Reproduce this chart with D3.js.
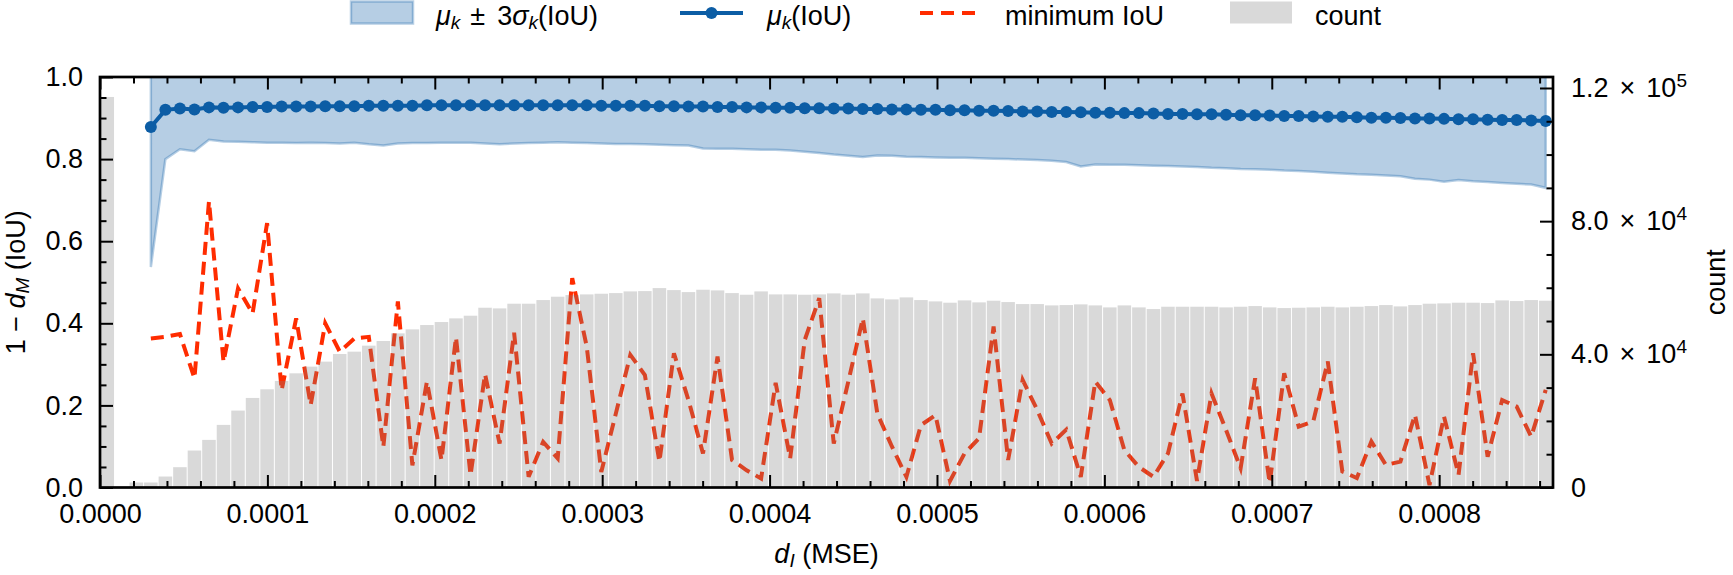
<!DOCTYPE html>
<html>
<head>
<meta charset="utf-8">
<script src="https://cdn.jsdelivr.net/npm/d3@7"></script>
<style>
  body { margin: 0; background: #fff; }
  svg text { font-family: "Liberation Sans", Arial, Helvetica, sans-serif; font-size: 27px; fill: #000; }
</style>
</head>
<body>
<div id="chart"></div>
<script>
var svgWidth = 1733;
var svgHeight = 575;

var margin = {
  top: 77,
  right: 180,
  bottom: 87.5,
  left: 100
};

var width = svgWidth - margin.left - margin.right;
var height = svgHeight - margin.top - margin.bottom;

// histogram of d_I (MSE): 100 bins of equal width starting at 0
var binWidth = 0.00000868;
var counts = [
  117300, 0, 1500, 1500, 3300, 6100, 11100, 14300, 18800, 23100,
  26900, 29500, 32000, 34300, 36300, 37800, 40100, 40800, 42600, 44000,
  46300, 47500, 48800, 49700, 50800, 51600, 54000, 53800, 55200, 55200,
  56300, 57300, 57800, 58000, 58200, 58400, 58900, 59000, 59900, 59300,
  58700, 59400, 59200, 58400, 57900, 58900, 58000, 58000, 57900, 58000,
  58300, 57900, 58300, 56800, 56500, 57100, 56300, 55900, 55500, 56200,
  55600, 56100, 55700, 55100, 55100, 54700, 54800, 55000, 54700, 54100,
  54700, 54100, 53600, 54300, 54300, 54300, 54300, 54100, 54300, 54500,
  54100, 53900, 54000, 54100, 54300, 54100, 54300, 54500, 54800, 54400,
  54800, 55200, 55300, 55500, 55500, 55400, 56200, 56000, 56300, 56100
];

// per-bin IoU statistics, first one is bin 3
var firstBin = 3;
var muIoU = [
  0.878, 0.920, 0.923, 0.921, 0.926, 0.925, 0.926,
  0.927, 0.927, 0.928, 0.928, 0.928, 0.929, 0.929, 0.929, 0.930, 0.930,
  0.930, 0.930, 0.931, 0.931, 0.931, 0.931, 0.931, 0.931, 0.931, 0.931,
  0.931, 0.931, 0.931, 0.931, 0.930, 0.930, 0.930, 0.930, 0.929, 0.929,
  0.928, 0.928, 0.927, 0.927, 0.926, 0.926, 0.925, 0.925, 0.924, 0.924,
  0.923, 0.923, 0.922, 0.922, 0.921, 0.921, 0.920, 0.920, 0.919, 0.919,
  0.918, 0.918, 0.917, 0.916, 0.916, 0.915, 0.915, 0.914, 0.913, 0.913,
  0.912, 0.912, 0.911, 0.910, 0.910, 0.909, 0.909, 0.908, 0.907, 0.907,
  0.906, 0.905, 0.905, 0.904, 0.903, 0.903, 0.902, 0.901, 0.901, 0.900,
  0.899, 0.899, 0.898, 0.897, 0.897, 0.896, 0.895, 0.895, 0.894, 0.893
];
// mu - 3 sigma
var lowerIoU = [
  0.537, 0.800, 0.824, 0.819, 0.847, 0.843, 0.842,
  0.841, 0.840, 0.840, 0.839, 0.840, 0.839, 0.838, 0.840, 0.836, 0.833,
  0.838, 0.839, 0.839, 0.840, 0.840, 0.840, 0.838, 0.836, 0.838, 0.839,
  0.840, 0.841, 0.840, 0.839, 0.838, 0.837, 0.837, 0.836, 0.835, 0.834,
  0.833, 0.826, 0.825, 0.825, 0.824, 0.823, 0.823, 0.821, 0.818, 0.815,
  0.811, 0.808, 0.805, 0.809, 0.808, 0.806, 0.805, 0.804, 0.803, 0.803,
  0.802, 0.801, 0.800, 0.799, 0.798, 0.796, 0.793, 0.782, 0.787, 0.786,
  0.786, 0.785, 0.784, 0.783, 0.782, 0.781, 0.779, 0.778, 0.776, 0.775,
  0.774, 0.772, 0.771, 0.769, 0.767, 0.765, 0.763, 0.762, 0.760, 0.758,
  0.752, 0.750, 0.745, 0.749, 0.746, 0.744, 0.742, 0.740, 0.738, 0.730
];
var minIoU = [
  0.363, 0.367, 0.374, 0.266, 0.697, 0.306, 0.485,
  0.424, 0.644, 0.237, 0.412, 0.201, 0.400, 0.331, 0.363, 0.367, 0.099,
  0.453, 0.054, 0.258, 0.067, 0.366, 0.030, 0.276, 0.107, 0.377, 0.026,
  0.111, 0.071, 0.510, 0.343, 0.038, 0.180, 0.323, 0.274, 0.063, 0.327,
  0.213, 0.083, 0.319, 0.067, 0.042, 0.022, 0.255, 0.071, 0.359, 0.461,
  0.107, 0.258, 0.412, 0.180, 0.100, 0.026, 0.152, 0.176, 0.016, 0.083,
  0.120, 0.392, 0.067, 0.262, 0.189, 0.107, 0.141, 0.026, 0.258, 0.213,
  0.091, 0.050, 0.026, 0.083, 0.229, 0.016, 0.229, 0.140, 0.047, 0.266,
  0.011, 0.278, 0.148, 0.161, 0.307, 0.039, 0.023, 0.112, 0.055, 0.063,
  0.177, 0.006, 0.173, 0.031, 0.327, 0.075, 0.213, 0.197, 0.124, 0.238
];

// tick values and labels
var xTicks = [0, 0.0001, 0.0002, 0.0003, 0.0004, 0.0005, 0.0006, 0.0007, 0.0008];
var xTickLabels = ["0.0000", "0.0001", "0.0002", "0.0003", "0.0004", "0.0005", "0.0006", "0.0007", "0.0008"];
var yTicks = [0, 0.2, 0.4, 0.6, 0.8, 1.0];
var yTickLabels = ["0.0", "0.2", "0.4", "0.6", "0.8", "1.0"];
var countTicks = [0, 40000, 80000, 120000];
var countMantissa = ["0", "4.0", "8.0", "1.2"];
var countExponent = ["", "4", "4", "5"];
var countMax = 123300;

var blue = "#0C5DA5";
var red = "#FF2C00";

var svg = d3.select("#chart")
  .append("svg")
  .attr("width", svgWidth)
  .attr("height", svgHeight);

var chartGroup = svg.append("g")
  .attr("transform", `translate(${margin.left}, ${margin.top})`);

chartGroup.append("clipPath")
  .attr("id", "plotClip")
  .append("rect")
  .attr("width", width)
  .attr("height", height);

// scales
var xLinearScale = d3.scaleLinear()
  .domain([0, binWidth * counts.length])
  .range([0, width]);

var yLinearScale = d3.scaleLinear()
  .domain([0, 1])
  .range([height, 0]);

var countScale = d3.scaleLinear()
  .domain([0, countMax])
  .range([height, 0]);

var stats = muIoU.map(function(m, i) {
  return {
    x: (firstBin + i + 0.5) * binWidth,
    mu: m,
    lo: lowerIoU[i],
    hi: 2 * m - lowerIoU[i],
    min: minIoU[i]
  };
});

var plot = chartGroup.append("g").attr("clip-path", "url(#plotClip)");

// mu +- 3 sigma band
var band = d3.area()
  .x(d => xLinearScale(d.x))
  .y0(d => yLinearScale(d.lo))
  .y1(d => yLinearScale(d.hi));

plot.append("path")
  .datum(stats)
  .attr("d", band)
  .attr("fill", blue)
  .attr("fill-opacity", 0.3)
  .attr("stroke", blue)
  .attr("stroke-opacity", 0.3)
  .attr("stroke-width", 2.5);

// mean IoU
plot.append("path")
  .datum(stats)
  .attr("d", d3.line().x(d => xLinearScale(d.x)).y(d => yLinearScale(d.mu)))
  .attr("fill", "none")
  .attr("stroke", blue)
  .attr("stroke-width", 4);

plot.selectAll("circle.mu")
  .data(stats)
  .enter()
  .append("circle")
  .attr("class", "mu")
  .attr("cx", d => xLinearScale(d.x))
  .attr("cy", d => yLinearScale(d.mu))
  .attr("r", 6)
  .attr("fill", blue);

// minimum IoU
plot.append("path")
  .datum(stats)
  .attr("d", d3.line().x(d => xLinearScale(d.x)).y(d => yLinearScale(d.min)))
  .attr("fill", "none")
  .attr("stroke", red)
  .attr("stroke-width", 4)
  .attr("stroke-dasharray", "13,7");

// count histogram sits on the twin axis, drawn on top with alpha
plot.selectAll("rect.bar")
  .data(counts)
  .enter()
  .append("rect")
  .attr("class", "bar")
  .attr("x", (d, i) => xLinearScale(i * binWidth) + 0.5)
  .attr("width", (d, i) => xLinearScale((i + 1) * binWidth) - xLinearScale(i * binWidth) - 1)
  .attr("y", d => countScale(d))
  .attr("height", d => height - countScale(d))
  .attr("fill", "#808080")
  .attr("fill-opacity", 0.3);

// axes, ticks point inward
var minorX = d3.range(0, binWidth * counts.length, 0.00002)
  .filter(v => Math.abs(v / 0.0001 - Math.round(v / 0.0001)) > 1e-6);
var minorY = d3.range(0, 1.0001, 0.05)
  .filter(v => Math.abs(v / 0.2 - Math.round(v / 0.2)) > 1e-6);
var minorC = d3.range(0, countMax, 10000)
  .filter(v => v % 40000 !== 0);

function styleAxis(g) {
  g.select(".domain").remove();
  g.selectAll(".tick line").attr("stroke-width", 2);
  return g;
}

chartGroup.append("g")
  .attr("transform", `translate(0, ${height})`)
  .call(d3.axisBottom(xLinearScale).tickValues(xTicks)
    .tickFormat((d, i) => xTickLabels[i])
    .tickSizeInner(-12.5).tickSizeOuter(0).tickPadding(16.5))
  .call(styleAxis);

chartGroup.append("g")
  .attr("transform", `translate(0, ${height})`)
  .call(d3.axisBottom(xLinearScale).tickValues(minorX).tickFormat("")
    .tickSizeInner(-6.5).tickSizeOuter(0))
  .call(styleAxis);

chartGroup.append("g")
  .call(d3.axisTop(xLinearScale).tickValues(xTicks).tickFormat("")
    .tickSizeInner(-12.5).tickSizeOuter(0))
  .call(styleAxis);

chartGroup.append("g")
  .call(d3.axisTop(xLinearScale).tickValues(minorX).tickFormat("")
    .tickSizeInner(-6.5).tickSizeOuter(0))
  .call(styleAxis);

chartGroup.append("g")
  .call(d3.axisLeft(yLinearScale).tickValues(yTicks)
    .tickFormat((d, i) => yTickLabels[i])
    .tickSizeInner(-13).tickSizeOuter(0).tickPadding(17))
  .call(styleAxis);

chartGroup.append("g")
  .call(d3.axisLeft(yLinearScale).tickValues(minorY).tickFormat("")
    .tickSizeInner(-6.5).tickSizeOuter(0))
  .call(styleAxis);

var rightAxis = chartGroup.append("g")
  .attr("transform", `translate(${width}, 0)`)
  .call(d3.axisRight(countScale).tickValues(countTicks)
    .tickFormat("")
    .tickSizeInner(-13).tickSizeOuter(0).tickPadding(18))
  .call(styleAxis);

rightAxis.selectAll(".tick text").each(function(d, i) {
  var t = d3.select(this);
  t.append("tspan").text(countMantissa[i]);
  if (countExponent[i]) {
    t.append("tspan").attr("dx", 11).text("\u00d7");
    t.append("tspan").attr("dx", 11).text("10");
    t.append("tspan").attr("dy", -10).attr("font-size", 19).text(countExponent[i]);
  }
});

chartGroup.append("g")
  .attr("transform", `translate(${width}, 0)`)
  .call(d3.axisRight(countScale).tickValues(minorC).tickFormat("")
    .tickSizeInner(-6.5).tickSizeOuter(0))
  .call(styleAxis);

// frame
chartGroup.append("rect")
  .attr("width", width)
  .attr("height", height)
  .attr("fill", "none")
  .attr("stroke", "#000")
  .attr("stroke-width", 2.7);

// text with italic / subscript parts
function addParts(textSel, parts) {
  var shift = 0;
  parts.forEach(function(p) {
    var ts = textSel.append("tspan").text(p.t);
    if (p.italic) ts.attr("font-style", "italic");
    var target = p.sub ? 4 : 0;
    if (target !== shift) {
      ts.attr("dy", target - shift);
      shift = target;
    }
    if (p.sub) ts.attr("font-size", 19);
    if (p.dx) ts.attr("dx", p.dx);
  });
}

// axis labels
addParts(svg.append("text")
  .attr("transform", `translate(25, ${margin.top + height / 2}) rotate(-90)`)
  .attr("text-anchor", "middle"),
  [{t: "1 \u2212 "}, {t: "d", italic: true}, {t: "M", italic: true, sub: true}, {t: " (IoU)"}]);

addParts(svg.append("text")
  .attr("x", margin.left + width / 2)
  .attr("y", 563)
  .attr("text-anchor", "middle"),
  [{t: "d", italic: true}, {t: "I", italic: true, sub: true}, {t: " (MSE)"}]);

svg.append("text")
  .attr("transform", `translate(1725, ${margin.top + height / 2}) rotate(-90)`)
  .attr("text-anchor", "middle")
  .text("count");

// legend across the top of the figure
var legend = svg.append("g");
var legendY = 13;
var legendBase = 24.5;

legend.append("rect")
  .attr("x", 351).attr("y", 1.5).attr("width", 62).attr("height", 22)
  .attr("fill", blue).attr("fill-opacity", 0.3)
  .attr("stroke", blue).attr("stroke-opacity", 0.3).attr("stroke-width", 2.5);
addParts(legend.append("text").attr("x", 436).attr("y", legendBase),
  [{t: "\u03bc", italic: true}, {t: "k", italic: true, sub: true},
   {t: "\u00b1", dx: 10}, {t: "3", dx: 12}, {t: "\u03c3", italic: true},
   {t: "k", italic: true, sub: true}, {t: "(IoU)"}]);

legend.append("line")
  .attr("x1", 680).attr("x2", 743).attr("y1", legendY).attr("y2", legendY)
  .attr("stroke", blue).attr("stroke-width", 4);
legend.append("circle")
  .attr("cx", 711.5).attr("cy", legendY).attr("r", 6).attr("fill", blue);
addParts(legend.append("text").attr("x", 767).attr("y", legendBase),
  [{t: "\u03bc", italic: true}, {t: "k", italic: true, sub: true}, {t: "(IoU)"}]);

legend.append("line")
  .attr("x1", 920).attr("x2", 983).attr("y1", legendY).attr("y2", legendY)
  .attr("stroke", red).attr("stroke-width", 4)
  .attr("stroke-dasharray", "13,8");
legend.append("text").attr("x", 1005).attr("y", legendBase).text("minimum IoU");

legend.append("rect")
  .attr("x", 1230).attr("y", 1.5).attr("width", 62).attr("height", 22)
  .attr("fill", "#808080").attr("fill-opacity", 0.3);
legend.append("text").attr("x", 1315).attr("y", legendBase).text("count");
</script>
</body>
</html>
